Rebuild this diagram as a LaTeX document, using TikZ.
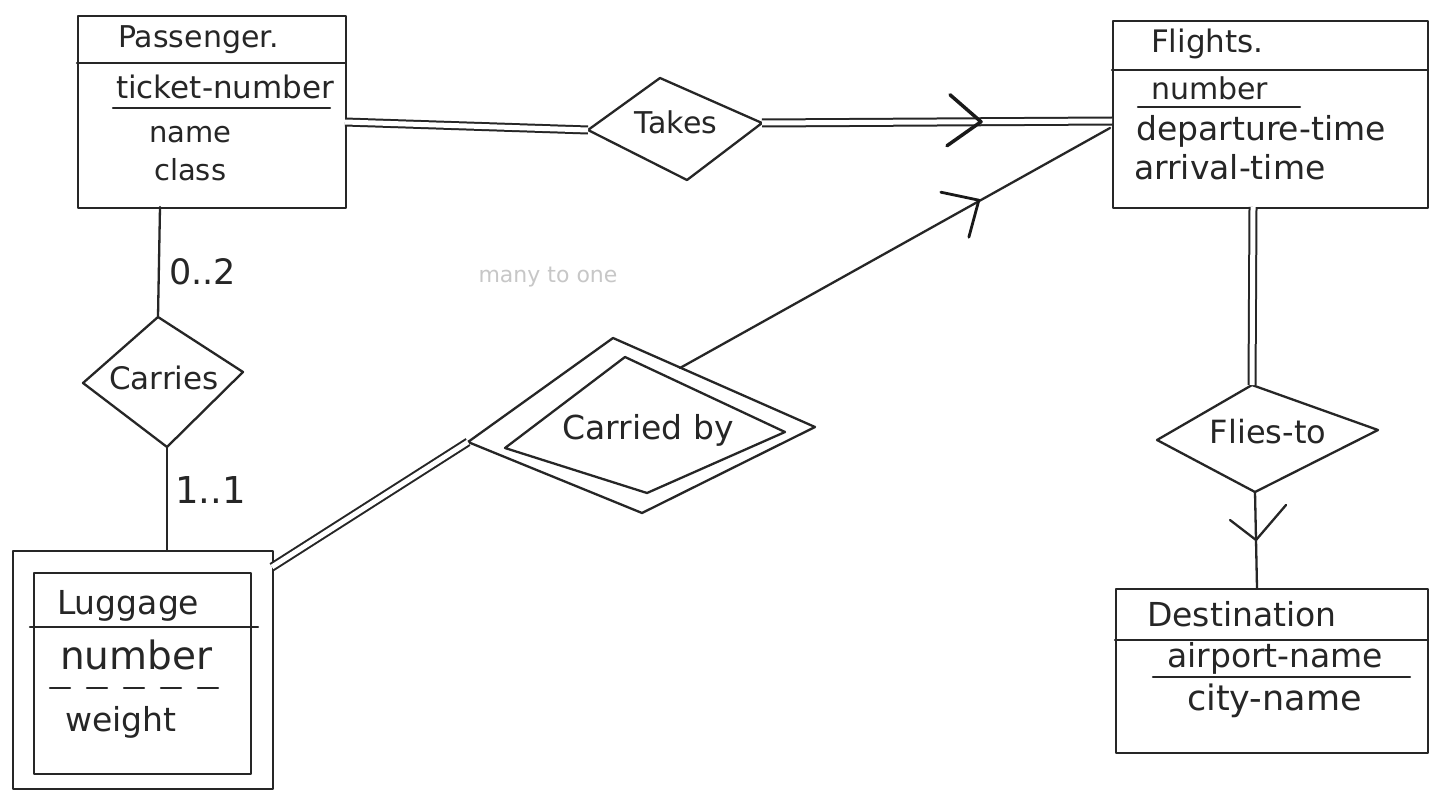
\documentclass[tikz,border=0pt]{standalone}
\usepackage{fontspec}
\setmainfont{DejaVu Sans}
\newcommand\hsz[1]{\fontsize{#1}{#1}\selectfont}
\begin{document}
\begin{tikzpicture}[x=1pt,y=-1pt,
  line width=2.3pt, line join=round, line cap=round,
  ink/.style={draw=black!85, line width=2.3pt},
  lbl/.style={inner sep=0pt, anchor=west, text=black!85},
  ctr/.style={inner sep=0pt, text=black!85},
  dbl/.style={draw=black!85, double=white, double distance=5pt, line width=2pt, line cap=butt},
  arw/.style={draw=black!90, line width=3.5pt},
  box/.style={draw=black!85, line width=2.3pt, anchor=north west, inner sep=0pt, rectangle}]
\useasboundingbox[fill=white] (0,0) rectangle (1442,797);

% ---------- Passenger ----------
\node[box, minimum width=268pt, minimum height=192pt] (pass) at (77,15) {};
\draw[ink] (77,63) -- (345,63);
\node[lbl, font=\hsz{30}] (passT) at (117,40) {Passenger.};
\node[lbl, font=\hsz{31}] (passK) at (115,87) {ticket-number};
\draw[ink] (113,108) -- (330,108);
\node[lbl, font=\hsz{29}] (passA1) at (148,135) {name};
\node[lbl, font=\hsz{29}] (passA2) at (153,170) {class};
\coordinate (passE) at (345,122);
\coordinate (passS) at (160,207);

% ---------- Flights ----------
\node[box, minimum width=315pt, minimum height=187pt] (fl) at (1112,20) {};
\draw[ink] (1112,70) -- (1427,70);
\node[lbl, font=\hsz{31}] (flT) at (1150,44) {Flights.};
\node[lbl, font=\hsz{30}] (flK) at (1150,88) {number};
\draw[ink] (1138,107) -- (1300,107);
\node[lbl, font=\hsz{33}] (flA1) at (1135,131) {departure-time};
\node[lbl, font=\hsz{33}] (flA2) at (1133,167) {arrival-time};
\coordinate (flW) at (1112,121);
\coordinate (flW2) at (1110,128);
\coordinate (flS) at (1253,207);

% ---------- Destination ----------
\node[box, minimum width=312pt, minimum height=164pt] (dest) at (1115,588) {};
\draw[ink] (1115,640) -- (1427,640);
\node[lbl, font=\hsz{33}] (destT) at (1146,614) {Destination};
\node[lbl, font=\hsz{33}] (destK) at (1166,658) {airport-name};
\draw[ink] (1153,677) -- (1410,677);
\node[lbl, font=\hsz{35}] (destA) at (1186,701) {city-name};
\coordinate (destN) at (1257,588);

% ---------- Luggage (weak entity) ----------
\node[box, minimum width=260pt, minimum height=238pt] (lug) at (12,550) {};
\node[box, minimum width=217pt, minimum height=201pt] (lugI) at (33,572) {};
\draw[ink] (30,627) -- (258,627);
\node[lbl, font=\hsz{33}] (lugT) at (56,606) {Luggage};
\node[lbl, font=\hsz{39}] (lugK) at (59,655) {number};
\draw[ink, dash pattern=on 20pt off 17pt] (50,688) -- (218,688);
\node[lbl, font=\hsz{33}] (lugA) at (64,722) {weight};
\coordinate (lugN) at (167,550);
\coordinate (lugE) at (272,567);

% ---------- Takes ----------
\coordinate (tkT) at (660,78);
\coordinate (tkR) at (762,123);
\coordinate (tkB) at (687,180);
\coordinate (tkL) at (588,130);
\draw[ink] (tkT) -- (tkR) -- (tkB) -- (tkL) -- cycle;
\node[ctr, font=\hsz{30}] (tk) at (676,122) {Takes};

% ---------- Carries ----------
\coordinate (caT) at (158,317);
\coordinate (caR) at (243,372);
\coordinate (caB) at (167,447);
\coordinate (caL) at (83,383);
\draw[ink] (caT) -- (caR) -- (caB) -- (caL) -- cycle;
\node[ctr, font=\hsz{31}] (ca) at (164,378) {Carries};

% ---------- Carried by (identifying) ----------
\coordinate (cbT) at (613,338);
\coordinate (cbR) at (815,427);
\coordinate (cbB) at (642,513);
\coordinate (cbL) at (468,442);
\draw[ink] (cbT) -- (cbR) -- (cbB) -- (cbL) -- cycle;
\draw[ink] (625,357) -- (785,432) -- (647,493) -- (505,448) -- cycle;
\node[ctr, font=\hsz{33}] (cb) at (648,430) {Carried by};
\coordinate (cbNE) at (680,368);

% ---------- Flies-to ----------
\coordinate (ftT) at (1252,385);
\coordinate (ftR) at (1378,430);
\coordinate (ftB) at (1255,492);
\coordinate (ftL) at (1157,440);
\draw[ink] (ftT) -- (ftR) -- (ftB) -- (ftL) -- cycle;
\node[ctr, font=\hsz{32}] (ft) at (1268,432) {Flies-to};

% ---------- connectors ----------
\draw[dbl] (passE) -- (tkL);
\draw[dbl] (tkR) -- coordinate[pos=0.62] (m1) (flW);
\draw[arw] ([shift={(-29,-27)}]m1) -- ([shift={(2,0)}]m1) -- ([shift={(-32,24)}]m1);

\draw[ink] (cbNE) -- coordinate[pos=0.695] (m2) (flW2);
\draw[arw, line width=2.8pt] ([shift={(-38,-9)}]m2) -- ([shift={(0,-1)}]m2) -- ([shift={(-10,36)}]m2);

\draw[ink] (passS) -- (caT);
\node[lbl, font=\hsz{35}] (c02) at (168,272) {0..2};
\draw[ink] (caB) -- (lugN);
\node[lbl, font=\hsz{37}] (c11) at (174,490) {1..1};

\draw[dbl] (lugE) -- (cbL);

\draw[dbl] (flS) -- (ftT);
\draw[ink] (ftB) -- coordinate[pos=0.5] (m3) (destN);
\draw[ink] ([shift={(-26,-20)}]m3) -- (m3) -- ([shift={(30,-35)}]m3);

% faint erased note
\node[ctr, font=\hsz{22}, text=black!22] (note) at (548,277) {many to one};
\end{tikzpicture}
\end{document}
